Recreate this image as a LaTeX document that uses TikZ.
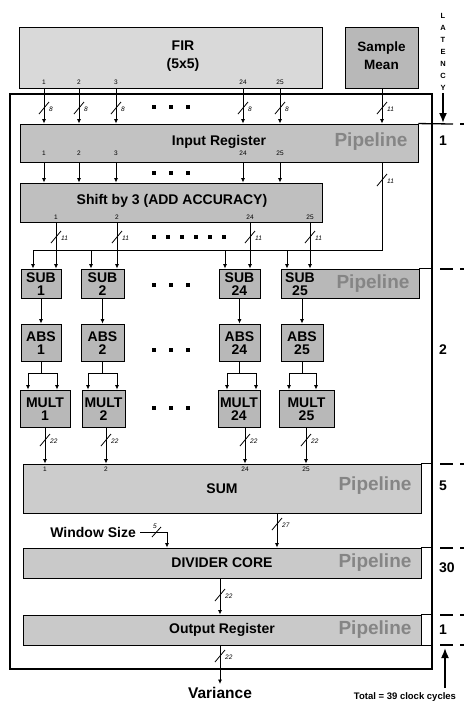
\documentclass[tikz,border=0pt]{standalone}
\usepackage{fontspec}
\setmainfont{Liberation Sans}
\usetikzlibrary{arrows.meta}
\definecolor{firc}{gray}{0.85}
\definecolor{smc}{gray}{0.72}
\definecolor{regc}{gray}{0.76}
\definecolor{shc}{gray}{0.75}
\definecolor{opc}{gray}{0.72}
\definecolor{sumc}{gray}{0.80}
\definecolor{divc}{gray}{0.79}
\definecolor{pipecol}{gray}{0.52}
\newcommand\busw[3]{%
  \draw[line width=0.8pt] (#1-5,#2+6) -- (#1+5,#2-6);
  \node[bw] at (#1+5,#2+1.5) {#3};}
\newcommand\latmark[1]{%
  \draw[line width=1.3pt] (440,#1) -- (453,#1);
  \draw[line width=1.3pt] (460,#1) -- (464,#1);}
\begin{document}
\begin{tikzpicture}[x=1pt,y=-1pt,
  blk/.style={draw=black, line width=0.9pt, inner sep=0pt},
  lbl/.style={font=\bfseries\fontsize{14}{13}\selectfont, align=center, inner sep=0pt},
  pipe/.style={font=\bfseries\fontsize{19}{20}\selectfont, text=pipecol, inner sep=0pt},
  port/.style={font=\fontsize{6.5}{7}\selectfont, inner sep=0pt},
  bw/.style={font=\itshape\fontsize{6.5}{7}\selectfont, anchor=west, inner sep=0pt},
  arr/.style={line width=0.8pt, -{Latex[length=4.5pt,width=4pt]}},
  wire/.style={line width=0.8pt},
  sq/.style={fill=black, minimum size=4pt, inner sep=0pt},
  big/.style={line width=1.6pt, -{Latex[length=10pt,width=8pt]}}]
\useasboundingbox (0,0) rectangle (467,702);

% ---------- top sources ----------
\node[blk, fill=firc, minimum width=303pt, minimum height=61pt] (fir) at (170.5,57.5) {};
\node[lbl, font=\bfseries\fontsize{14}{18}\selectfont] (firt) at (183,56) {FIR\\(5x5)};
\node[blk, fill=smc, minimum width=73pt, minimum height=61pt] (sm) at (381.5,57.5) {};
\node[lbl, font=\bfseries\fontsize{13.5}{18}\selectfont] (smt) at (381.5,56) {Sample\\Mean};

% ---------- frame ----------
\node[draw, line width=1.6pt, minimum width=422pt, minimum height=575pt, inner sep=0pt] (frame) at (221,381.5) {};

% ---------- column coordinates ----------
\coordinate (c1) at (44,0);  \coordinate (c2) at (79,0);  \coordinate (c3) at (116,0);
\coordinate (c4) at (243,0); \coordinate (c5) at (280,0); \coordinate (cs) at (382,0);
\coordinate (d1) at (56,0);  \coordinate (d2) at (117,0); \coordinate (d3) at (250,0); \coordinate (d4) at (310,0);
\coordinate (b1) at (33,0);  \coordinate (b2) at (91,0);  \coordinate (b3) at (225,0); \coordinate (b4) at (287,0);
\coordinate (e1) at (45,0);  \coordinate (e2) at (106,0); \coordinate (e3) at (245,0); \coordinate (e4) at (306,0);
\coordinate (xa1) at (28,0);  \coordinate (xb1) at (57,0);
\coordinate (xa2) at (88,0);  \coordinate (xb2) at (117,0);
\coordinate (xa3) at (227,0); \coordinate (xb3) at (256,0);
\coordinate (xa4) at (289,0); \coordinate (xb4) at (316,0);
\coordinate (jy) at (0,373);
\coordinate (byR) at (382,250);
\coordinate (g) at (277,0); \coordinate (wc) at (167,0); \coordinate (h) at (220,0);

% ---------- input register ----------
\node[blk, fill=regc, minimum width=398pt, minimum height=38pt] (inreg) at (219,143) {};
\node[lbl] (inregt) at (219,142) {Input Register};
\node[pipe] (pp1) at (371,142) {Pipeline};

% ---------- shift ----------
\node[blk, fill=shc, minimum width=302pt, minimum height=39pt] (shift) at (171,202.5) {};
\node[lbl] (shiftt) at (172,201) {Shift by 3 (ADD ACCURACY)};

% ---------- SUB / ABS / MULT ----------
\node[blk, fill=opc, minimum width=40pt, minimum height=29pt] (sub1) at (41,283.5) {};
\node[blk, fill=opc, minimum width=43pt, minimum height=29pt] (sub2) at (102.5,283.5) {};
\node[blk, fill=opc, minimum width=41pt, minimum height=29pt] (sub3) at (239.5,283.5) {};
\node[blk, fill=opc, minimum width=138pt, minimum height=29pt] (sub4) at (350,283.5) {};
\node[lbl] (sub1t) at (41,284) {SUB\\1};
\node[lbl] (sub2t) at (102.5,284) {SUB\\2};
\node[lbl] (sub3t) at (239.5,284) {SUB\\24};
\node[lbl] (sub4t) at (300,284) {SUB\\25};
\node[pipe] (pp2) at (373,284) {Pipeline};

\node[blk, fill=opc, minimum width=40pt, minimum height=37pt] (abs1) at (41,342.5) {};
\node[blk, fill=opc, minimum width=43pt, minimum height=37pt] (abs2) at (102.5,342.5) {};
\node[blk, fill=opc, minimum width=41pt, minimum height=37pt] (abs3) at (239.5,342.5) {};
\node[blk, fill=opc, minimum width=42pt, minimum height=37pt] (abs4) at (302,342.5) {};
\node[lbl] (abs1t) at (41,343) {ABS\\1};
\node[lbl] (abs2t) at (102.5,343) {ABS\\2};
\node[lbl] (abs3t) at (239.5,343) {ABS\\24};
\node[lbl] (abs4t) at (302,343) {ABS\\25};

\node[blk, fill=opc, minimum width=50pt, minimum height=37pt] (mult1) at (45,408.5) {};
\node[blk, fill=opc, minimum width=43pt, minimum height=37pt] (mult2) at (103.5,408.5) {};
\node[blk, fill=opc, minimum width=42pt, minimum height=37pt] (mult3) at (239,408.5) {};
\node[blk, fill=opc, minimum width=55pt, minimum height=37pt] (mult4) at (306.5,408.5) {};
\node[lbl] (mult1t) at (45,409) {MULT\\1};
\node[lbl] (mult2t) at (103.5,409) {MULT\\2};
\node[lbl] (mult3t) at (239,409) {MULT\\24};
\node[lbl] (mult4t) at (306.5,409) {MULT\\25};

% ---------- SUM, DIVIDER, OUTPUT ----------
\node[blk, fill=sumc, minimum width=398pt, minimum height=49pt] (sum) at (222,488.5) {};
\node[lbl] (sumt) at (222,489) {SUM};
\node[pipe] (pp3) at (375,486) {Pipeline};
\node[blk, fill=divc, minimum width=398pt, minimum height=30pt] (div) at (222,563) {};
\node[lbl] (divt) at (222,563) {DIVIDER CORE};
\node[pipe] (pp4) at (375,563) {Pipeline};
\node[blk, fill=divc, minimum width=398pt, minimum height=30pt] (out) at (222,630) {};
\node[lbl] (outt) at (222,630) {Output Register};
\node[pipe] (pp5) at (375,630) {Pipeline};
\draw[line width=0.9pt] (out.north east) -- (out.north east -| frame.east);
\draw[line width=0.9pt] (out.south east) -- (out.south east -| frame.east);

% ---------- port labels ----------
\foreach \c/\t in {c1/1,c2/2,c3/3,c4/24,c5/25}{
  \node[port] at (fir.south -| \c) [yshift=6pt] {\t};
  \node[port] at (inreg.south -| \c) [yshift=9pt] {\t};
}
\foreach \c/\t in {d1/1,d2/2,d3/24,d4/25}{
  \node[port] at (shift.south -| \c) [yshift=5pt] {\t};
}
\foreach \c/\t in {e1/1,e2/2,e3/24,e4/25}{
  \node[port] at (sum.north -| \c) [yshift=-6pt] {\t};
}

% ---------- connectors ----------
\foreach \c in {c1,c2,c3,c4,c5}{
  \draw[arr] (fir.south -| \c) -- (inreg.north -| \c);
  \draw[arr] (inreg.south -| \c) -- (shift.north -| \c);
}
\draw[arr] (sm.south -| cs) -- (inreg.north -| cs);
\draw[wire] (inreg.south -| cs) -- (byR) -- (byR -| b1);
\draw[arr] (byR -| b1) -- (sub1.north -| b1);
\draw[arr] (byR -| b2) -- (sub2.north -| b2);
\draw[arr] (byR -| b3) -- (sub3.north -| b3);
\draw[arr] (byR -| b4) -- (sub4.north -| b4);
\draw[arr] (shift.south -| d1) -- (sub1.north -| d1);
\draw[arr] (shift.south -| d2) -- (sub2.north -| d2);
\draw[arr] (shift.south -| d3) -- (sub3.north -| d3);
\draw[arr] (shift.south -| d4) -- (sub4.north -| d4);

\draw[arr] (sub1.south) -- (abs1.north);
\draw[arr] (sub2.south) -- (abs2.north);
\draw[arr] (sub3.south) -- (abs3.north);
\draw[arr] (abs4.north |- sub4.south) -- (abs4.north);

\foreach \i in {1,2,3,4}{
  \draw[wire] (abs\i.south) -- (abs\i.south |- jy);
  \draw[arr] (abs\i.south |- jy) -| (mult\i.north -| xa\i);
  \draw[arr] (abs\i.south |- jy) -| (mult\i.north -| xb\i);
}
\draw[arr] (mult1.south -| e1) -- (sum.north -| e1);
\draw[arr] (mult2.south -| e2) -- (sum.north -| e2);
\draw[arr] (mult3.south -| e3) -- (sum.north -| e3);
\draw[arr] (mult4.south -| e4) -- (sum.north -| e4);

\draw[arr] (sum.south -| g) -- (div.north -| g);
\node[lbl, anchor=east] (win) at (136,532) {Window Size};
\coordinate (wst) at (140,532);
\draw[arr] (wst) -| (div.north -| wc);
\draw[arr] (div.south -| h) -- (out.north -| h);
\node[lbl, font=\bfseries\fontsize{15.5}{16}\selectfont] (var) at (220,693) {Variance};
\coordinate (vend) at (220,684);
\draw[arr] (out.south -| h) -- (vend);

% ---------- bus widths ----------
\foreach \x in {44,79,116,243,280}{ \busw{\x}{108}{8} }
\busw{382}{108}{11}
\busw{382}{180}{11}
\foreach \x in {56,117,250,310}{ \busw{\x}{237}{11} }
\foreach \x in {45,106,245,306}{ \busw{\x}{440}{22} }
\busw{277}{524}{27}
\draw[line width=0.8pt] (152,537) -- (161,527);
\node[port, font=\itshape\fontsize{6.5}{7}\selectfont] at (155,526) {5};
\busw{220}{595}{22}
\busw{220}{656}{22}

% ---------- ellipsis squares ----------
\foreach \y in {107,173,285,350,408}{
  \foreach \x in {154,171,188}{ \node[sq] at (\x,\y) {}; }
}
\foreach \x in {154,168,182,196,210,224}{ \node[sq] at (\x,237) {}; }

% ---------- latency column ----------
\node[font=\bfseries\fontsize{7.5}{12}\selectfont, align=center, inner sep=0pt] (lat) at (443,52) {L\\A\\T\\E\\N\\C\\Y};
\coordinate (latend) at (443,123);
\draw[big] (443,93) -- (latend);
\draw[line width=1.3pt] (inreg.north east) -- (453,124);
\draw[line width=1.3pt] (460,124) -- (464,124);
\foreach \b in {sub4,sum,div}{
  \draw[line width=0.9pt] (\b.north east) -- (\b.north east -| frame.east);
}
\latmark{269}
\latmark{464}
\latmark{548}
\latmark{615}
\latmark{645}
\node[lbl, anchor=west] (l1) at (439,141) {1};
\node[lbl, anchor=west] (l2) at (439,350) {2};
\node[lbl, anchor=west] (l3) at (439,486) {5};
\node[lbl, anchor=west] (l4) at (439,568) {30};
\node[lbl, anchor=west] (l5) at (439,630) {1};
\coordinate (totend) at (445,648);
\draw[big] (445,688) -- (totend);
\node[font=\bfseries\fontsize{9.5}{10}\selectfont, inner sep=0pt] (tot) at (405,697) {Total = 39 clock cycles};
\end{tikzpicture}
\end{document}
